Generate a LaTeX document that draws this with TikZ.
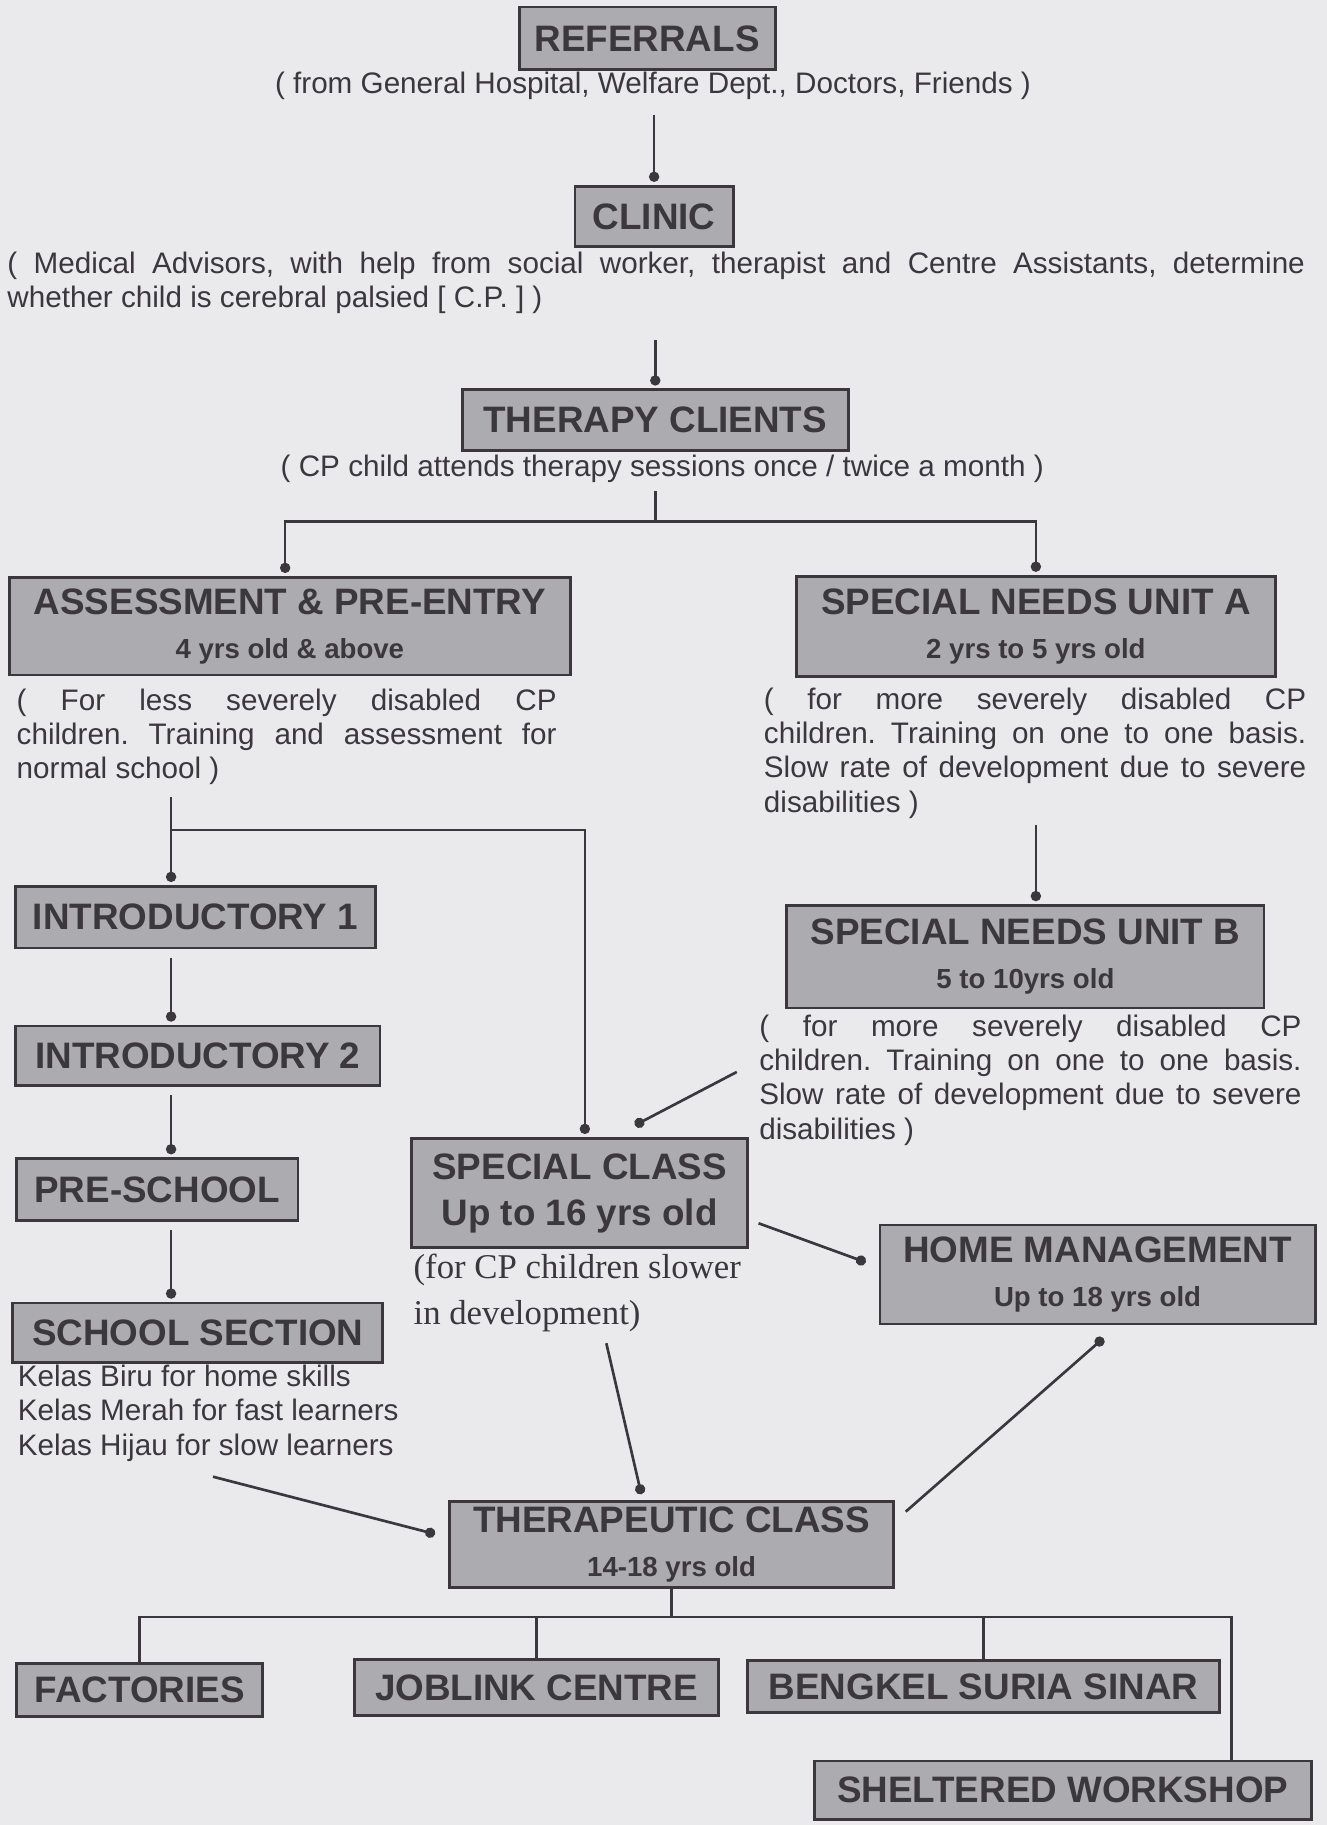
\documentclass[tikz,border=0pt]{standalone}
\usepackage{fontspec}
\setmainfont{Liberation Sans}
\newfontfamily\timesfont{Liberation Serif}
\usetikzlibrary{arrows.meta}
\frenchspacing
\definecolor{pagebg}{RGB}{234,233,235}
\definecolor{boxgray}{RGB}{172,171,176}
\definecolor{ink}{RGB}{58,56,60}
\newcommand{\titlesize}{\fontsize{18}{21.5}\selectfont\bfseries}
\newcommand{\agesize}{\fontsize{13.5}{16}\selectfont\bfseries}
\newcommand{\notesize}{\fontsize{14.5}{16.8}\selectfont}
\tikzset{
	box/.style={draw=ink, line width=1.4pt, fill=boxgray, text=ink, inner sep=0pt, align=center, font=\titlesize},
	note/.style={text=ink, inner sep=0pt, font=\notesize},
	line/.style={draw=ink, line width=1.3pt},
	link/.style={line, -{Circle[length=5pt]}},
}
\begin{document}
\begin{tikzpicture}[x=0.02cm, y=-0.02cm]
	\fill[pagebg] (0,0) rectangle (1140,1568);
	\useasboundingbox (0,0) rectangle (1140,1568);
	% one-line boxes
	\foreach \n/\x/\y/\w/\h/\t in {ref/556/33/220/54/REFERRALS, clinic/562/186/136/52/CLINIC,
		therapy/563/361/332/52/THERAPY CLIENTS, intro1/168/788/309/53/INTRODUCTORY 1,
		intro2/170/907/313/51/INTRODUCTORY 2, presch/135/1022/242/53/PRE-SCHOOL,
		school/170/1145/318/51/SCHOOL SECTION, fact/120/1452/211/45/FACTORIES,
		job/461/1450/313/48/JOBLINK CENTRE, beng/845/1449/406/45/BENGKEL SURIA SINAR,
		shelt/913/1538/427/50/SHELTERED WORKSHOP}{
		\node[box, minimum width=\w*0.02cm, minimum height=\h*0.02cm] (\n) at (\x,\y) {\t};
	}
	% two-line boxes
	\node[box, minimum width=9.64cm, minimum height=1.68cm] (assess) at (249,538) {ASSESSMENT \& PRE-ENTRY\\{\agesize 4 yrs old \& above}};
	\node[box, minimum width=8.24cm, minimum height=1.72cm] (snua) at (890,538) {SPECIAL NEEDS UNIT A\\{\agesize 2 yrs to 5 yrs old}};
	\node[box, minimum width=8.2cm, minimum height=1.76cm] (snub) at (881,822) {SPECIAL NEEDS UNIT B\\{\agesize 5 to 10yrs old}};
	\node[box, minimum width=5.78cm, minimum height=1.88cm] (special) at (498,1025) {SPECIAL CLASS\\[1pt]Up to 16 yrs old};
	\node[box, minimum width=7.48cm, minimum height=1.7cm] (home) at (943,1095) {HOME MANAGEMENT\\{\agesize Up to 18 yrs old}};
	\node[box, minimum width=7.64cm, minimum height=1.48cm] (thera) at (577,1327) {THERAPEUTIC CLASS\\{\agesize 14-18 yrs old}};
	% notes
	\node[note] (refnote) at (561,74) {( from General Hospital, Welfare Dept., Doctors, Friends )};
	\node[note, anchor=west, text width=22.3cm, align=justify] (clinicnote) at (6,243) {( Medical Advisors, with help from social worker, therapist and Centre Assistants, determine\linebreak whether child is cerebral palsied [ C.P. ] )};
	\node[note] (therapynote) at (569,403) {( CP child attends therapy sessions once / twice a month )};
	\node[note, anchor=west, text width=9.28cm, align=justify] (assessnote) at (14,633) {( For less severely disabled CP\linebreak children. Training and assessment for\linebreak normal school )};
	\node[note, anchor=west, text width=9.32cm, align=justify] (snuanote) at (656,647) {( for more severely disabled CP\linebreak children. Training on one to one basis.\linebreak Slow rate of development due to severe\linebreak disabilities )};
	\node[note, anchor=west, text width=9.32cm, align=justify] (snubnote) at (652,928) {( for more severely disabled CP\linebreak children. Training on one to one basis.\linebreak Slow rate of development due to severe\linebreak disabilities )};
	\node[note, anchor=west, align=left] (schoolnote) at (15,1214) {Kelas Biru for home skills\\Kelas Merah for fast learners\\Kelas Hijau for slow learners};
	\node[note, anchor=west, align=left, font=\timesfont\fontsize{17}{22.8}\selectfont] (specialnote) at (355,1111) {(for CP children slower\\ in development)};
	% connectors
	\path (563,448) coordinate (split) (147,713) coordinate (lbus);
	\draw[link] ([yshift=-0.25cm]refnote.south -| clinic.north) -- ([yshift=0.05cm]clinic.north);
	\draw[link] ([yshift=-0.44cm]clinicnote.south -| therapy.north) -- ([yshift=0.05cm]therapy.north);
	\draw[line] ([yshift=-0.14cm]therapynote.south -| split) -- (split);
	\draw[link] (split) -| ([xshift=-0.08cm,yshift=0.05cm]assess.north);
	\draw[link] (split) -| ([yshift=0.05cm]snua.north);
	\draw[link] ([yshift=-0.1cm]snuanote.south -| snua.north) -- ([yshift=0.05cm]snub.north -| snua.north);
	\draw[line] ([yshift=-0.2cm]assessnote.south -| lbus) -- (lbus);
	\draw[link] (lbus) -- ([yshift=0.05cm]intro1.north -| lbus);
	\draw[link] (lbus) -| ([xshift=0.09cm,yshift=0.05cm]special.north);
	\foreach \a/\b in {intro1/intro2, intro2/presch, presch/school}{
		\draw[link] ([yshift=-0.14cm]\a.south -| lbus) -- ([yshift=0.05cm]\b.north -| lbus);
	}
	\draw[link] ([xshift=-0.38cm,yshift=0.14cm]snubnote.west) -- ([xshift=0.95cm,yshift=0.2cm]special.north);
	\draw[link] ([xshift=0.16cm,yshift=-0.52cm]special.east) -- ([xshift=-0.22cm,yshift=0.21cm]home.west);
	\draw[link] ([xshift=0.5cm,yshift=-0.18cm]specialnote.south) -- ([xshift=-0.52cm,yshift=0.1cm]thera.north);
	\draw[link] ([xshift=3.36cm,yshift=-0.26cm]schoolnote.south west) -- ([xshift=-0.22cm,yshift=0.18cm]thera.west);
	\draw[link] ([xshift=0.18cm,yshift=-0.2cm]thera.north east) -- ([xshift=0.1cm,yshift=-0.22cm]home.south);
	% outlets
	\draw[line] (thera.south) -- ++(0,24) coordinate (bus);
	\path ([xshift=2.9cm]shelt.north) coordinate (swdrop);
	\draw[line] (fact.north) |- (bus) -| (swdrop);
	\foreach \n in {job,beng}{
		\draw[line] (bus -| \n.north) -- (\n.north);
	}
\end{tikzpicture}
\end{document}
